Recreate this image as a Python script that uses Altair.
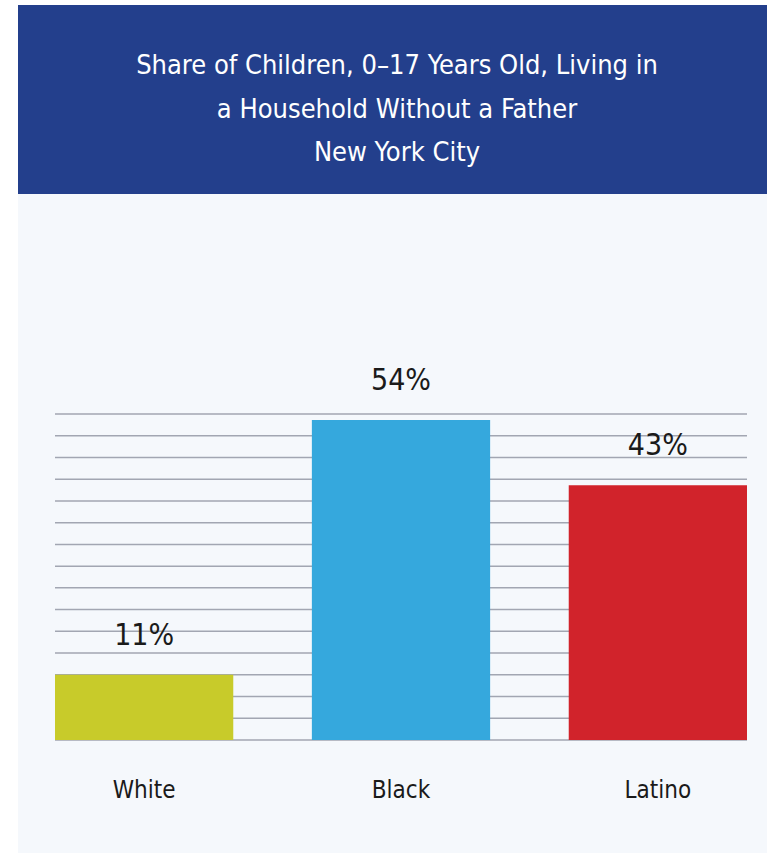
import altair as alt
import pandas as pd

# ---- data ----
groups = ["White", "Black", "Latino"]
shares = [11, 54, 43]
labels = ["11%", "54%", "43%"]
bar_colors = ["#c8cb2a", "#35a8dd", "#d1232b"]
title_lines = ["Share of Children, 0–17 Years Old, Living in",
               "a Household Without a Father",
               "New York City"]
y_max = 55
grid_values = [round(i * y_max / 15, 3) for i in range(16)]

df = pd.DataFrame({"group": groups, "share": shares, "label": labels})
grid_df = pd.DataFrame({"v": grid_values})

FONT = "'DejaVu Sans Condensed', 'DejaVu Sans', sans-serif"
W, H = 749, 848

yscale = alt.Scale(domain=[0, y_max], range=[735, 409], nice=False, zero=True)
xscale = alt.Scale(domain=groups, range=[37, 729], paddingInner=0.306, paddingOuter=0)

header = alt.Chart(pd.DataFrame({"a": [0]})).mark_rect(color="#233f8c").encode(
    x=alt.value(0), x2=alt.value(W), y=alt.value(0), y2=alt.value(189)
)

title = alt.Chart(pd.DataFrame({"a": [0]})).mark_text(
    font=FONT, fontSize=27, fontWeight=500, color="white", align="center",
    baseline="alphabetic", lineBreak="\n", lineHeight=43.5
).encode(x=alt.value(379), y=alt.value(69), text=alt.value("\n".join(title_lines)))

grid = alt.Chart(grid_df).mark_rule(color="#a2a6b2", strokeWidth=1.5).encode(
    y=alt.Y("v:Q", scale=yscale, axis=None),
    x=alt.value(37), x2=alt.value(729)
)

bars = alt.Chart(df).mark_bar().encode(
    x=alt.X("group:N", scale=xscale, axis=None, sort=groups),
    y=alt.Y("share:Q", scale=yscale, axis=None),
    color=alt.Color("group:N", scale=alt.Scale(domain=groups, range=bar_colors), legend=None),
)

values = alt.Chart(df).mark_text(
    font=FONT, fontSize=30, color="#1a1a1a", baseline="alphabetic", dy=-30
).encode(
    x=alt.X("group:N", scale=xscale, axis=None, sort=groups, bandPosition=0.5),
    y=alt.Y("share:Q", scale=yscale, axis=None),
    text="label:N",
)

cats = alt.Chart(df).mark_text(
    font=FONT, fontSize=24, color="#1a1a1a", baseline="alphabetic", dy=58
).encode(
    x=alt.X("group:N", scale=xscale, axis=None, sort=groups, bandPosition=0.5),
    y=alt.datum(0, scale=yscale),
    text="group:N",
)

chart = alt.layer(header, title, grid, bars, values, cats).properties(
    width=W, height=H,
    autosize=alt.AutoSizeParams(type="none"),
    padding={"left": 18, "top": 5, "right": 0, "bottom": 0},
    background="white",
).configure_view(fill="#f5f8fc", stroke=None)

chart.save("out.html", embed_options={"renderer": "svg", "actions": False})
